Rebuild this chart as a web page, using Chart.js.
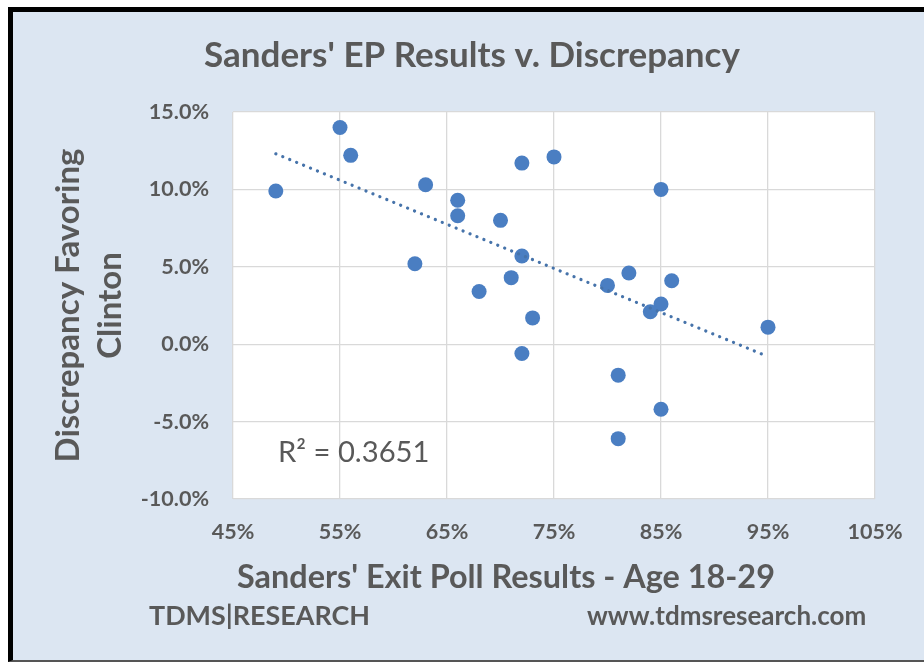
<!DOCTYPE html>
<html>
<head>
<meta charset="utf-8">
<script src="https://cdn.jsdelivr.net/npm/chart.js@4"></script>
<style>
    html, body { margin: 0; padding: 0; background: #fff; overflow: hidden; }
    #frame {
        position: absolute; left: 8px; top: 7px; width: 930px; height: 648px;
        background: #dce6f2;
        border-top: 5px solid #000; border-left: 5px solid #000; border-bottom: 2px solid #555;
    }
    #chart { position: absolute; left: 0; top: 0; }
</style>
</head>
<body>
<div id="frame"></div>
<canvas id="chart" width="924" height="664"></canvas>
<script>
// Sanders' exit poll result (age 18-29) vs discrepancy favouring Clinton, in percent
const epResults = [49, 55, 56, 63, 62, 66, 66, 72, 75, 70, 72, 71, 68, 73, 85, 80, 82, 86, 85, 84, 95, 72, 81, 85, 81];
const discrepancy = [9.9, 14.0, 12.2, 10.3, 5.2, 9.3, 8.3, 11.7, 12.1, 8.0, 5.7, 4.3, 3.4, 1.7, 10.0, 3.8, 4.6, 4.1, 2.6, 2.1, 1.1, -0.6, -2.0, -4.2, -6.1];

// linear trendline end points, as drawn
const trendX = [49, 95];
const trendY = [12.3, -0.8];

const xTicks = [45, 55, 65, 75, 85, 95, 105];
const yTicks = [-10, -5, 0, 5, 10, 15];
const rSquared = 'R\u00b2 = 0.3651';

const textGray = '#595959';
const fontFamily = 'Lato, "Open Sans", sans-serif';

const points = epResults.map((x, i) => ({ x: x, y: discrepancy[i] }));
const trend = trendX.map((x, i) => ({ x: x, y: trendY[i] }));

const plotBackground = {
    id: 'plotBackground',
    beforeDraw(chart) {
        const { ctx, chartArea } = chart;
        ctx.save();
        ctx.fillStyle = '#fff';
        ctx.fillRect(chartArea.left, chartArea.top, chartArea.right - chartArea.left, chartArea.bottom - chartArea.top);
        ctx.restore();
    }
};

const extraText = {
    id: 'extraText',
    afterDraw(chart) {
        const ctx = chart.ctx;
        ctx.save();
        ctx.fillStyle = textGray;
        ctx.textBaseline = 'alphabetic';

        ctx.textAlign = 'center';
        ctx.font = 'bold 35px ' + fontFamily;
        ctx.fillText("Sanders' EP Results v. Discrepancy", 472, 67);

        ctx.font = 'bold 32.4px ' + fontFamily;
        ctx.fillText("Sanders' Exit Poll Results - Age 18-29", 506, 588);

        ctx.textAlign = 'left';
        ctx.font = 'bold 26.9px ' + fontFamily;
        ctx.fillText('TDMS|RESEARCH', 149, 625);
        ctx.font = 'bold 26px ' + fontFamily;
        ctx.fillText('www.tdmsresearch.com', 587, 625);

        ctx.font = '29.2px ' + fontFamily;
        ctx.fillText(rSquared, 278, 462);
        ctx.restore();
    }
};

new Chart(document.getElementById('chart'), {
    type: 'scatter',
    data: {
        datasets: [{
            type: 'line',
            label: 'Linear trend',
            data: trend,
            order: 0,
            borderColor: '#4673aa',
            borderWidth: 3.2,
            borderDash: [0.1, 7.4],
            borderCapStyle: 'round',
            pointRadius: 0,
            fill: false
        }, {
            label: 'States',
            data: points,
            order: 1,
            backgroundColor: '#4a7ec2',
            borderWidth: 0,
            pointRadius: 7.5,
            pointHoverRadius: 7.5
        }]
    },
    options: {
        responsive: false,
        animation: false,
        events: [],
        layout: { padding: { left: 0, top: 112, right: 49, bottom: 105 } },
        plugins: {
            legend: { display: false },
            title: { display: false },
            tooltip: { enabled: false }
        },
        scales: {
            x: {
                type: 'linear',
                min: xTicks[0],
                max: xTicks[xTicks.length - 1],
                afterBuildTicks: (scale) => { scale.ticks = xTicks.map(v => ({ value: v })); },
                afterFit: (scale) => { scale.height = 60; },
                ticks: {
                    padding: 20,
                    color: textGray,
                    font: { family: fontFamily, size: 21.5, weight: 'bold' },
                    callback: (v) => v + '%'
                },
                grid: { color: '#d9d9d9', lineWidth: 1.3, drawTicks: false },
                border: { display: false }
            },
            y: {
                type: 'linear',
                min: yTicks[0],
                max: yTicks[yTicks.length - 1],
                afterBuildTicks: (scale) => { scale.ticks = yTicks.map(v => ({ value: v })); },
                afterFit: (scale) => { scale.width = 233; },
                ticks: {
                    padding: 24,
                    color: textGray,
                    font: { family: fontFamily, size: 21.5, weight: 'bold' },
                    callback: (v) => v.toFixed(1) + '%'
                },
                grid: { color: '#d9d9d9', lineWidth: 1.3, drawTicks: false },
                border: { display: false },
                title: {
                    display: true,
                    text: ['Discrepancy Favoring', 'Clinton'],
                    color: textGray,
                    font: { family: fontFamily, size: 33, weight: 'bold', lineHeight: '42px' },
                    padding: { top: 47, bottom: 0 }
                }
            }
        }
    },
    plugins: [plotBackground, extraText]
});
</script>
</body>
</html>
